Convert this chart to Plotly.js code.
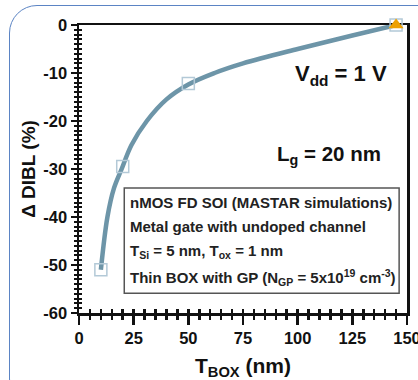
<!DOCTYPE html>
<html>
<head>
<meta charset="utf-8">
<script src="https://cdn.plot.ly/plotly-3.0.1.min.js"></script>
<style>
html,body{margin:0;padding:0;background:#fff;overflow:hidden;}
#frame{position:absolute;left:9px;top:5px;width:440px;height:400px;border:1.5px solid #5b84c4;border-radius:28px;}
#chart{position:absolute;left:0;top:0;width:418px;height:380px;}
</style>
</head>
<body>
<div id="frame"></div>
<div id="chart"></div>
<script>
// Simulated points (open squares)
const simX = [10, 20, 50, 145];
const simY = [-51, -29.5, -12.2, 0];
// Reference point (triangle)
const refX = [145];
const refY = [0];
// Fitted curve
const curveX = [10, 13, 16, 19.5, 24, 31, 40, 50, 62, 75, 100, 125, 145];
const curveY = [-51, -40, -34, -30, -25, -20, -15.5, -12.4, -10, -8, -5, -2.2, 0];
// Axis ticks
const xTicks = [0, 25, 50, 75, 100, 125, 150];
const yTicks = [-60, -50, -40, -30, -20, -10, 0];

const F = 'Liberation Sans, Arial, sans-serif';
const traces = [
  {x: curveX, y: curveY, mode: 'lines', line: {shape: 'spline', smoothing: 1, color: '#6d95a8', width: 4.5}, hoverinfo: 'skip', cliponaxis: false},
  {x: simX, y: simY, mode: 'markers', marker: {symbol: 'square-open', size: 12, color: '#b3c9d7', line: {width: 1.5, color: '#b3c9d7'}}, cliponaxis: false},
  {x: refX, y: refY, mode: 'markers', marker: {symbol: 'triangle-up', size: 13, color: '#eea000'}, cliponaxis: false},
  {x: [0], y: [-60], xaxis: 'x2', yaxis: 'y2', mode: 'markers', marker: {opacity: 0}, showlegend: false}
];
const axBase = {showgrid: false, zeroline: false, linecolor: '#111', linewidth: 2.5, layer: 'below traces'};
const boxFont = {family: F, size: 15, color: '#222', weight: 'bold'};
const layout = {
  width: 418, height: 380,
  margin: {l: 79, r: 11, t: 25, b: 67},
  paper_bgcolor: 'rgba(0,0,0,0)', plot_bgcolor: '#fff',
  showlegend: false,
  font: {family: F, color: '#111'},
  xaxis: Object.assign({}, axBase, {
    range: [0, 150], tickvals: xTicks, ticktext: xTicks.map(String),
    ticks: 'outside', ticklen: 9, tickwidth: 2.5, tickcolor: '#111',
    minor: {dtick: 5, tick0: 0, ticks: 'outside', ticklen: 4, tickwidth: 2.5, tickcolor: '#111'},
    showline: true, mirror: true, ticklabeloverflow: 'allow',
    tickfont: {family: F, size: 16.5, color: '#111', weight: 'bold'},
    title: {text: 'T<sub>BOX</sub> (nm)', font: {family: F, size: 21, color: '#111', weight: 'bold'}, standoff: 12}
  }),
  yaxis: Object.assign({}, axBase, {
    range: [-60, 0], tickvals: yTicks, ticktext: yTicks.map(String),
    ticks: 'outside', ticklen: 6, tickwidth: 2.5, tickcolor: '#111',
    minor: {dtick: 1, tick0: 0, ticks: 'outside', ticklen: 3, tickwidth: 2, tickcolor: '#111'},
    showline: true, mirror: true,
    tickfont: {family: F, size: 16.5, color: '#111', weight: 'bold'},
    title: {text: '\u0394 DIBL (%)', font: {family: F, size: 19, color: '#111', weight: 'bold'}, standoff: 3}
  }),
  xaxis2: {overlaying: 'x', anchor: 'y2', range: [0, 150], showgrid: false, zeroline: false, showticklabels: false, showline: false,
    tickvals: xTicks, ticks: 'inside', ticklen: 4, tickwidth: 2.5, tickcolor: '#111',
    minor: {dtick: 5, tick0: 0, ticks: 'inside', ticklen: 4, tickwidth: 2.5, tickcolor: '#111'}},
  yaxis2: {overlaying: 'y', anchor: 'x2', range: [-60, 0], showgrid: false, zeroline: false, showticklabels: false, showline: false,
    tickvals: yTicks, ticks: 'inside', ticklen: 3, tickwidth: 2, tickcolor: '#111',
    minor: {dtick: 1, tick0: 0, ticks: 'inside', ticklen: 3, tickwidth: 2, tickcolor: '#111'}},
  shapes: [
    {type: 'rect', xref: 'paper', yref: 'paper', x0: 0.138, x1: 0.976, y0: 0.069, y1: 0.434,
     line: {color: '#555', width: 1.5}, fillcolor: 'rgba(0,0,0,0)'}
  ],
  annotations: [
    {xref: 'paper', yref: 'paper', x: 0.799, y: 0.828, xanchor: 'center', yanchor: 'middle', text: 'V<sub>dd</sub> = 1 V', showarrow: false,
     font: {family: F, size: 22, color: '#111', weight: 'bold'}},
    {xref: 'paper', yref: 'paper', x: 0.762, y: 0.55, xanchor: 'center', yanchor: 'middle', text: 'L<sub>g</sub> = 20 nm', showarrow: false,
     font: {family: F, size: 20.5, color: '#111', weight: 'bold'}},
    {xref: 'paper', yref: 'paper', x: 0.148, y: 0.385, xanchor: 'left', yanchor: 'middle', text: 'nMOS FD SOI (MASTAR simulations)', showarrow: false, font: boxFont},
    {xref: 'paper', yref: 'paper', x: 0.148, y: 0.302, xanchor: 'left', yanchor: 'middle', text: 'Metal gate with undoped channel', showarrow: false, font: boxFont},
    {xref: 'paper', yref: 'paper', x: 0.148, y: 0.212, xanchor: 'left', yanchor: 'middle', text: 'T<sub>Si</sub> = 5 nm, T<sub>ox</sub> = 1 nm', showarrow: false, font: boxFont},
    {xref: 'paper', yref: 'paper', x: 0.148, y: 0.122, xanchor: 'left', yanchor: 'middle', text: 'Thin BOX with GP (N<sub>GP</sub> = 5x10<sup>19</sup> cm<sup>-3</sup>)', showarrow: false, font: boxFont}
  ]
};
Plotly.newPlot('chart', traces, layout, {displayModeBar: false, staticPlot: true});
</script>
</body>
</html>
